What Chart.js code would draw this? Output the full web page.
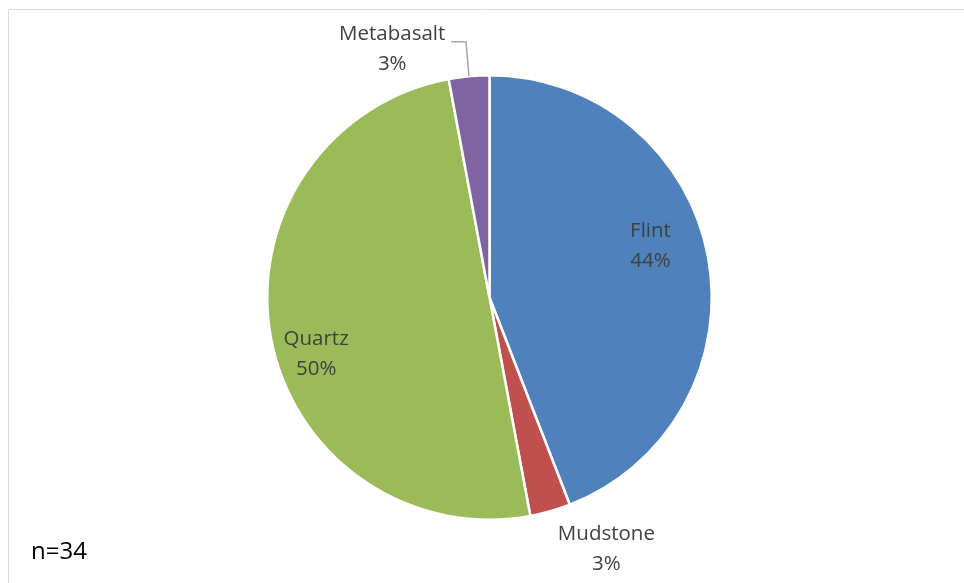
<!DOCTYPE html>
<html>
<head>
<meta charset="utf-8">
<script src="https://cdn.jsdelivr.net/npm/chart.js@4.4.1/dist/chart.umd.min.js"></script>
<style>
  html, body { margin: 0; padding: 0; background: #fff; }
  #wrap { width: 964px; height: 583px; position: relative; }
</style>
</head>
<body>
<div id="wrap"><canvas id="chart" width="964" height="583"></canvas></div>
<script>
var categories = ['Flint', 'Mudstone', 'Quartz', 'Metabasalt'];
var counts = [15, 1, 17, 1];
var sliceColors = ['#4F81BD', '#C0504D', '#9BBB59', '#8064A2'];
var sampleNote = 'n=34';

var total = counts.reduce((a, b) => a + b, 0);

// label placement per slice: radius fraction and angle offset (degrees) from slice middle
var labelPlace = [
    { r: 0.76, da: -7 },
    { r: 1.25, da: -9 },
    { r: 0.82, da: -7.4 },
    { r: 1.2, da: -16.1, leader: true }
];

var framePlugin = {
    id: 'frame',
    beforeDraw: function (c) {
        var ctx = c.ctx;
        ctx.save();
        ctx.strokeStyle = '#D9D9D9';
        ctx.lineWidth = 1;
        ctx.beginPath();
        ctx.moveTo(8.5, 600);
        ctx.lineTo(8.5, 9.5);
        ctx.lineTo(970, 9.5);
        ctx.stroke();
        ctx.restore();
    }
};

var labelPlugin = {
    id: 'sliceLabels',
    afterDraw: function (c) {
        var ctx = c.ctx;
        var arcs = c.getDatasetMeta(0).data;
        ctx.save();
        ctx.font = '20.5px "Open Sans", "Liberation Sans", sans-serif';
        ctx.fillStyle = '#404040';
        ctx.textAlign = 'center';
        ctx.textBaseline = 'middle';
        arcs.forEach(function (arc, i) {
            var p = labelPlace[i];
            var midRaw = (arc.startAngle + arc.endAngle) / 2;
            var mid = midRaw + p.da * Math.PI / 180;
            var rr = arc.outerRadius * p.r;
            var x = arc.x + Math.cos(mid) * rr;
            var y = arc.y + Math.sin(mid) * rr;
            var pct = Math.round(counts[i] / total * 100) + '%';
            ctx.fillText(categories[i], x, y - 15);
            ctx.fillText(pct, x, y + 15);
            if (p.leader) {
                var w = ctx.measureText(categories[i]).width;
                var ex = arc.x + Math.cos(midRaw) * arc.outerRadius;
                var ey = arc.y + Math.sin(midRaw) * arc.outerRadius;
                ctx.strokeStyle = '#A6A6A6';
                ctx.lineWidth = 1.5;
                ctx.beginPath();
                ctx.moveTo(x + w / 2 + 6, y - 7.5);
                ctx.lineTo(ex - 3, y - 7.5);
                ctx.lineTo(ex, ey);
                ctx.stroke();
            }
        });
        ctx.fillStyle = '#000';
        ctx.textAlign = 'left';
        ctx.font = '24px "Open Sans", "Liberation Sans", sans-serif';
        ctx.fillText(sampleNote, 31, 552);
        ctx.restore();
    }
};

var chart = new Chart(document.getElementById('chart').getContext('2d'), {
    type: 'pie',
    data: {
        labels: categories,
        datasets: [{
            data: counts,
            backgroundColor: sliceColors,
            borderColor: '#FFFFFF',
            borderWidth: 2.5
        }]
    },
    options: {
        responsive: false,
        animation: false,
        layout: { padding: { top: 74, bottom: 62, left: 266, right: 251 } },
        plugins: {
            legend: { display: false },
            tooltip: { enabled: false }
        }
    },
    plugins: [framePlugin, labelPlugin]
});
</script>
</body>
</html>
